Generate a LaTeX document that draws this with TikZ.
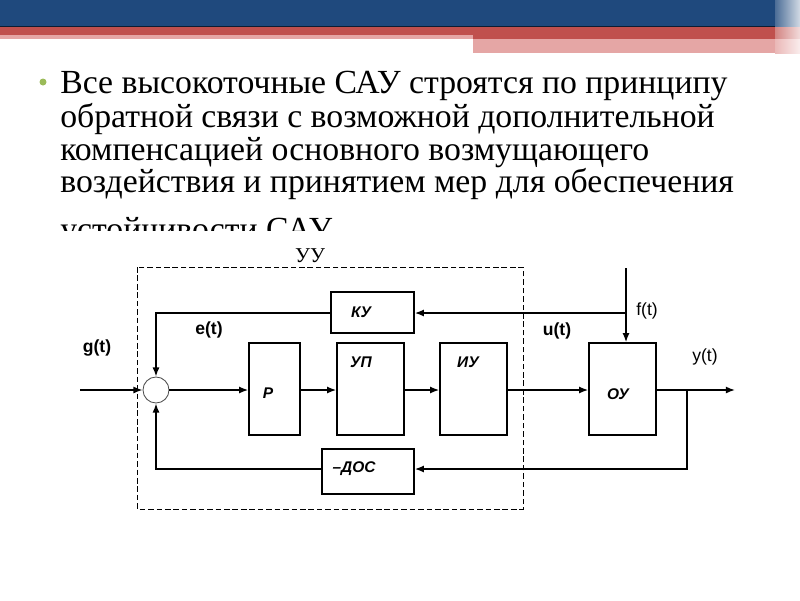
\documentclass[tikz,border=0pt]{standalone}
\usepackage{fontspec}
\setmainfont{Liberation Serif}
\setsansfont{Liberation Sans}
\usetikzlibrary{arrows.meta,positioning}

\definecolor{hdrblue}{RGB}{31,73,125}
\definecolor{hdrred}{RGB}{192,80,77}
\definecolor{hdrpink}{RGB}{229,166,165}
\definecolor{bulletgreen}{RGB}{155,187,89}

\begin{document}
\begin{tikzpicture}[x=0.025cm, y=-0.025cm, >={Latex[length=6.5pt,width=5pt]},
        txt/.style={anchor=base west, inner sep=0pt, font=\fontsize{24}{28}\selectfont},
        blk/.style={draw, line width=1.1pt, inner sep=0pt},
        lbl/.style={inner sep=0pt, font=\sffamily\bfseries\itshape\fontsize{11}{13}\selectfont},
        sgl/.style={inner sep=0pt, font=\sffamily\bfseries\fontsize{12.5}{14}\selectfont},
        sig/.style={line width=1.1pt},
        sumnode/.style={circle, draw=black!70, line width=0.6pt, minimum size=0.65cm, inner sep=0pt}]
    \useasboundingbox (0,0) rectangle (800,600);

    % slide header
    \fill[hdrblue] (0,0) rectangle (775,26);
    \fill[black!60!hdrblue] (0,26) rectangle (775,27);
    \fill[hdrred] (0,27) rectangle (775,35);
    \fill[hdrred] (473,35) rectangle (775,39);
    \fill[hdrpink] (0,35) rectangle (473,39);
    \fill[hdrpink] (473,39) rectangle (775,53);
    \shade[left color=hdrblue!80, right color=hdrblue!20] (775,0) rectangle (800,27);
    \shade[left color=hdrred!70, right color=hdrred!20] (775,27) rectangle (800,39);
    \shade[left color=hdrpink!80, right color=hdrpink!20] (775,39) rectangle (800,53);

    % bullet text
    \fill[bulletgreen] (43,82) circle (3.5);
    \node[txt] (l1) at (60,93) {Все высокоточные САУ строятся по принципу};
    \node[txt] (l2) at (60,127) {обратной связи с возможной дополнительной};
    \node[txt] (l3) at (60,160) {компенсацией основного возмущающего};
    \node[txt] (l4) at (60,192) {воздействия и принятием мер для обеспечения};
    \begin{scope}
        \clip (0,0) rectangle (800,230);
        \node[txt, text depth=0pt] (l5) at (60,240) {устойчивости САУ.}; % cut off by the picture below
    \end{scope}

    % control device frame
    \draw[line width=0.6pt, dash pattern=on 4pt off 2pt] (137,267) rectangle (523,509);
    \node[inner sep=0pt, font=\fontsize{15}{17}\selectfont] (uu) at (310,256) {УУ};

    % blocks
    \node[sumnode] (sum) at (156,390) {};
    \node[blk, minimum width=1.275cm, minimum height=2.3cm] (p) at (274.5,389) {};
    \node[blk, minimum width=1.675cm, minimum height=2.3cm] (up) at (370.5,389) {};
    \node[blk, minimum width=1.675cm, minimum height=2.3cm] (iu) at (473.5,389) {};
    \node[blk, minimum width=1.675cm, minimum height=2.3cm] (ou) at (622.5,389) {};
    \node[blk, minimum width=2.075cm, minimum height=1.025cm] (ku) at (372.5,312.5) {};
    \node[blk, minimum width=2.3cm, minimum height=1.125cm] (dos) at (368,471.5) {};

    % block names
    \node[lbl] (pname) at (268,393) {Р};
    \node[lbl] (upname) at (361,362) {УП};
    \node[lbl] (iuname) at (468,362) {ИУ};
    \node[lbl] (ouname) at (618,394) {ОУ};
    \node[lbl] (kuname) at (361,312) {КУ};
    \node[lbl] (dosname) at (354,469) {--ДОС};

    % signal names
    \node[sgl] (g) at (97,348) {g(t)};
    \node[sgl] (e) at (209,330) {e(t)};
    \node[sgl] (u) at (557,331) {u(t)};
    \node[sgl, font=\sffamily\fontsize{12.5}{14}\selectfont] (f) at (647,311) {f(t)};
    \node[sgl, font=\sffamily\fontsize{12.5}{14}\selectfont] (y) at (705,357) {y(t)};

    \coordinate (in) at (80,390);
    \coordinate (out) at (735,390);
    \coordinate (ftop) at (626,268);
    \coordinate (fbr) at (626,313);
    \coordinate (ybr) at (687,390);
    \coordinate (ybot) at (687,469);

    % forward path
    \draw[sig,->] (in) -- (sum.west);
    \draw[sig,->] (sum.east) -- (sum.east -| p.west);
    \draw[sig,->] (p.east |- sum) -- (up.west |- sum);
    \draw[sig,->] (up.east |- sum) -- (iu.west |- sum);
    \draw[sig,->] (iu.east |- sum) -- (ou.west |- sum);
    \draw[sig,->] (ou.east |- sum) -- (out);
    % disturbance and compensation
    \draw[sig,->] (ftop) -- (ou.north -| ftop);
    \draw[sig,->] (fbr) -- (ku.east |- fbr);
    \draw[sig,->] (ku.west |- fbr) -| (sum.north);
    % main feedback
    \draw[sig,->] (ybr) -- (ybot) -- (dos.east |- ybot);
    \draw[sig,->] (dos.west |- ybot) -| (sum.south);
\end{tikzpicture}
\end{document}
